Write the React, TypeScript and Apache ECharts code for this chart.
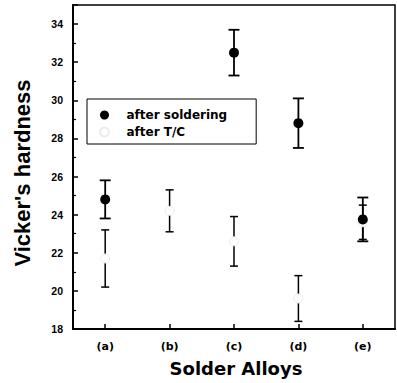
import React, { useEffect, useRef } from "react";
import * as echarts from "echarts";

const categories = ["(a)", "(b)", "(c)", "(d)", "(e)"];
const solderMean: (number | null)[] = [24.8, null, 32.5, 28.8, 23.75];
const solderErr: (number | null)[] = [1.0, null, 1.2, 1.3, 1.15];
const tcMean: number[] = [21.7, 24.2, 22.6, 19.6, 23.6];
const tcErr: number[] = [1.5, 1.1, 1.3, 1.2, 0.9];
const yTicks = { min: 18, max: 35, interval: 2 };

function errData(mean: (number | null)[], err: (number | null)[]) {
  const out: number[][] = [];
  mean.forEach((m, i) => {
    const e = err[i];
    if (m != null && e != null) out.push([i, m - e, m + e]);
  });
  return out;
}

function errRender(capW: number, lw: number) {
  return (params: any, api: any) => {
    const x = api.value(0);
    const top = api.coord([x, api.value(2)]);
    const bot = api.coord([x, api.value(1)]);
    const hw = capW / 2;
    const style = { stroke: "#000", lineWidth: lw };
    return {
      type: "group",
      children: [
        { type: "line", shape: { x1: top[0], y1: top[1], x2: bot[0], y2: bot[1] }, style },
        { type: "line", shape: { x1: top[0] - hw, y1: top[1], x2: top[0] + hw, y2: top[1] }, style },
        { type: "line", shape: { x1: bot[0] - hw, y1: bot[1], x2: bot[0] + hw, y2: bot[1] }, style },
      ],
    };
  };
}

export default function App() {
  const ref = useRef<HTMLDivElement>(null);
  useEffect(() => {
    if (!ref.current) return;
    const chart = echarts.init(ref.current, null, { renderer: "svg" });
    chart.setOption({
      animation: false,
      backgroundColor: "#fff",
      grid: {
        left: 73,
        right: 2,
        top: 5,
        bottom: 54,
        show: true,
        borderColor: "#000",
        borderWidth: 1.5,
        backgroundColor: "transparent",
      },
      legend: {
        orient: "vertical",
        left: 87,
        top: 99,
        padding: [9, 29, 5, 12],
        itemGap: 3,
        itemWidth: 34,
        itemHeight: 9,
        borderColor: "#000",
        borderWidth: 1,
        data: ["after soldering", "after T/C"],
        textStyle: {
          fontFamily: "DejaVu Sans",
          fontWeight: "bold",
          fontSize: 12,
          color: "#000",
          lineHeight: 14,
        },
      },
      xAxis: {
        type: "category",
        data: categories,
        boundaryGap: true,
        axisLine: { lineStyle: { color: "#000", width: 2 } },
        axisTick: { show: true, inside: true, alignWithLabel: true, length: 5, lineStyle: { color: "#000", width: 1.5 } },
        axisLabel: {
          margin: 12,
          fontFamily: "DejaVu Sans",
          fontWeight: "bold",
          fontSize: 11,
          color: "#000",
        },
        splitLine: { show: false },
      },
      yAxis: {
        type: "value",
        min: yTicks.min,
        max: yTicks.max,
        interval: yTicks.interval,
        axisLine: { show: true, lineStyle: { color: "#000", width: 2 } },
        axisTick: { show: true, inside: true, length: 5, lineStyle: { color: "#000", width: 1.5 } },
        minorTick: { show: true, splitNumber: 2, length: 3, lineStyle: { color: "#000", width: 1.2 } },
        axisLabel: {
          showMaxLabel: false,
          margin: 10,
          fontFamily: "Liberation Sans",
          fontWeight: "bold",
          fontSize: 10.5,
          color: "#000",
        },
        splitLine: { show: false },
      },
      graphic: [
        {
          type: "text",
          x: 236,
          y: 368,
          style: {
            text: "Solder Alloys",
            fontFamily: "DejaVu Sans",
            fontWeight: "bold",
            fontSize: 18,
            fill: "#000",
            textAlign: "center",
            textVerticalAlign: "middle",
          },
        },
        {
          type: "text",
          x: 22,
          y: 173,
          rotation: Math.PI / 2,
          style: {
            text: "Vicker's hardness",
            fontFamily: "Liberation Sans",
            fontWeight: "bold",
            fontSize: 22,
            fill: "#000",
            textAlign: "center",
            textVerticalAlign: "middle",
          },
        },
      ],
      series: [
        {
          type: "custom",
          name: "err-solder",
          renderItem: errRender(11, 1.8),
          encode: { x: 0, y: [1, 2] },
          data: errData(solderMean, solderErr),
          z: 2,
        },
        {
          type: "custom",
          name: "err-tc",
          renderItem: errRender(8, 1.5),
          encode: { x: 0, y: [1, 2] },
          data: errData(tcMean, tcErr),
          z: 2,
        },
        {
          type: "scatter",
          name: "after T/C",
          symbol: "circle",
          symbolSize: 9,
          itemStyle: { color: "#fff", borderColor: "#ececec", borderWidth: 1, opacity: 1 },
          data: tcMean,
          z: 3,
        },
        {
          type: "scatter",
          name: "after soldering",
          symbol: "circle",
          symbolSize: 10,
          itemStyle: { color: "#000", opacity: 1 },
          data: solderMean.map((v) => (v == null ? "-" : v)),
          z: 4,
        },
      ],
    });
    return () => chart.dispose();
  }, []);
  return <div ref={ref} style={{ position: "fixed", left: 0, top: 0, width: 397, height: 383 }} />;
}
